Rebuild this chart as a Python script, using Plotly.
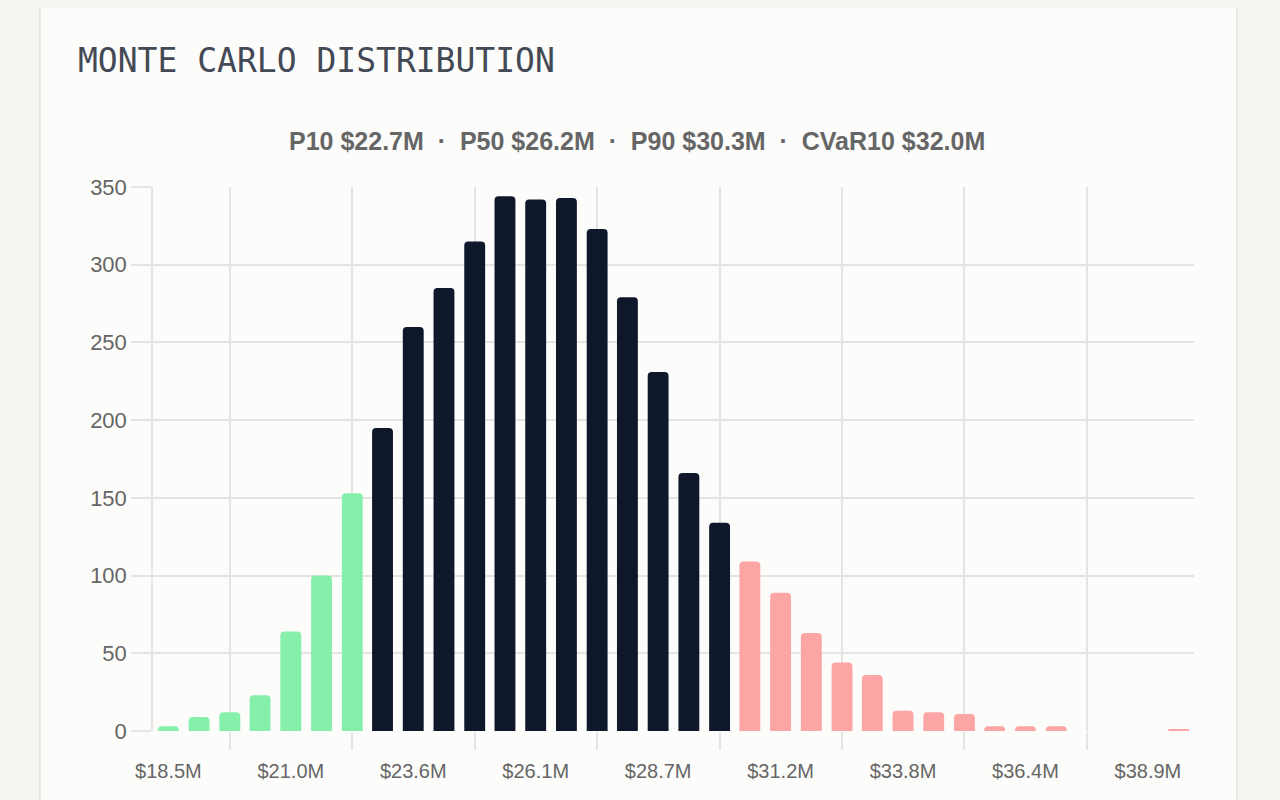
import plotly.graph_objects as go

# Monte Carlo histogram bins ($M, bin centers) and counts
bin_mid = [18.50, 19.14, 19.78, 20.41, 21.05, 21.69, 22.33, 22.96, 23.60, 24.24,
           24.88, 25.51, 26.15, 26.79, 27.43, 28.06, 28.70, 29.34, 29.98, 30.61,
           31.25, 31.89, 32.53, 33.16, 33.80, 34.44, 35.08, 35.71, 36.35, 36.99,
           37.63, 38.26, 38.90, 39.54]
counts = [3, 9, 12, 23, 64, 100, 153, 195, 260, 285,
          315, 344, 342, 343, 323, 279, 231, 166, 134, 109,
          89, 63, 44, 36, 13, 12, 11, 3, 3, 3,
          0, 0, 0, 1]
tick_labels = ["$18.5M", "$21.0M", "$23.6M", "$26.1M", "$28.7M",
               "$31.2M", "$33.8M", "$36.4M", "$38.9M"]

p10, p50, p90, cvar10 = 22.7, 26.2, 30.3, 32.0

GREEN = "#86efac"
DARK = "#0f172a"
PINK = "#fca5a5"
GRID = "#e4e4e2"
PAGE = "#f5f5f2"

bar_colors = [GREEN if x < p10 else (DARK if x < p90 else PINK) for x in bin_mid]

# the page puts the figure 8px in from the top-left corner of the window
OFF = 8
W, H = 1280 - OFF, 800 - OFF
# plot area in window pixels
L, R, T, B = 153, 1194, 187, 731


def fx(px):
    return (px - L) / (R - L)


def fy(py):
    return (B - py) / (B - T)


fig = go.Figure(go.Bar(
    x=bin_mid,
    y=counts,
    marker=dict(color=bar_colors, line=dict(width=0)),
    hoverinfo="x+y",
))

subtitle = "\u00a0\u00a0·\u00a0\u00a0".join([
    f"P10 ${p10:.1f}M", f"P50 ${p50:.1f}M", f"P90 ${p90:.1f}M", f"CVaR10 ${cvar10:.1f}M"
])

fig.update_layout(
    width=W, height=H,
    margin=dict(l=L - OFF, r=1280 - R, t=T - OFF, b=800 - B),
    paper_bgcolor=PAGE,
    plot_bgcolor="rgba(0,0,0,0)",
    bargap=0.31,
    barcornerradius=4,
    showlegend=False,
    font=dict(family="Liberation Sans, Arial, sans-serif", color="#666666"),
    shapes=[
        # card background
        dict(type="rect", xref="paper", yref="paper", layer="below",
             x0=fx(40), x1=fx(1237), y0=fy(830), y1=fy(1),
             fillcolor="#fcfcfa", line=dict(color="#e2e2de", width=1.5)),
    ],
    annotations=[
        dict(text="MONTE CARLO DISTRIBUTION", xref="paper", yref="paper",
             x=fx(76), y=fy(61), xanchor="left", yanchor="middle", showarrow=False,
             font=dict(family="DejaVu Sans Mono, monospace", size=33, color="#434955")),
        dict(text=f"<b>{subtitle}</b>", xref="paper", yref="paper",
             x=fx(637), y=fy(141), xanchor="center", yanchor="middle", showarrow=False,
             font=dict(family="Liberation Sans, Arial, sans-serif", size=25, color="#666666")),
    ],
)

fig.update_xaxes(
    range=[bin_mid[0] - 0.32, bin_mid[-1] + 0.32],
    tickmode="array",
    tickvals=bin_mid[::4],
    ticktext=tick_labels,
    ticks="",
    ticklabelstandoff=26,
    tickfont=dict(size=20, color="#666666"),
    showgrid=False,
    zeroline=False,
    showline=False,
    minor=dict(tickmode="array", tickvals=bin_mid[2::4], showgrid=True,
               gridcolor=GRID, gridwidth=1.5, ticks="outside", ticklen=18,
               tickcolor=GRID, tickwidth=1.5),
)

fig.update_yaxes(
    range=[0, 350],
    dtick=50,
    showgrid=True,
    gridcolor=GRID,
    gridwidth=1.5,
    zeroline=False,
    showline=True,
    linecolor=GRID,
    linewidth=1.5,
    ticks="outside",
    ticklen=20,
    tickcolor=GRID,
    tickwidth=1.5,
    tickfont=dict(size=22, color="#666666"),
)

fig.write_html("out.html", post_script=f"document.body.style.background='{PAGE}';")
